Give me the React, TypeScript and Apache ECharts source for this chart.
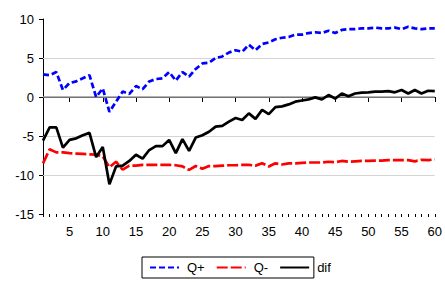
import React, { useEffect, useRef } from "react";
import * as echarts from "echarts";

const xValues: number[] = Array.from({ length: 60 }, (_, i) => i + 1);

const qPlus: number[] = [
  2.9, 2.8, 3.2, 0.9, 1.8, 2.0, 2.4, 2.8, 0.0, 1.1,
  -1.9, -0.6, 0.7, 0.4, 1.4, 1.0, 2.0, 2.3, 2.4, 3.2,
  2.1, 3.2, 2.6, 3.6, 4.3, 4.4, 5.0, 5.2, 5.7, 6.0,
  5.8, 6.7, 6.0, 6.8, 7.0, 7.4, 7.6, 7.7, 8.0, 8.0,
  8.2, 8.3, 8.2, 8.5, 8.2, 8.6, 8.7, 8.7, 8.8, 8.8,
  8.9, 8.8, 8.8, 8.9, 8.7, 9.0, 8.8, 8.7, 8.8, 8.8,
];

const qMinus: number[] = [
  -8.5, -6.7, -7.1, -7.1, -7.2, -7.25, -7.3, -7.35, -7.4, -7.6,
  -9.0, -8.3, -9.3, -8.8, -8.8, -8.7, -8.7, -8.7, -8.7, -8.7,
  -8.75, -8.9, -9.35, -8.85, -9.2, -8.85, -8.85, -8.8, -8.75, -8.75,
  -8.7, -8.7, -8.8, -8.5, -8.9, -8.5, -8.65, -8.5, -8.5, -8.45,
  -8.4, -8.4, -8.4, -8.3, -8.35, -8.2, -8.3, -8.25, -8.2, -8.2,
  -8.15, -8.15, -8.1, -8.1, -8.1, -8.1, -8.25, -8.05, -8.1, -8.0,
];

const dif: number[] = [
  -5.6, -3.9, -3.9, -6.5, -5.5, -5.3, -4.9, -4.6, -7.7, -6.4,
  -11.2, -8.9, -8.8, -8.2, -7.4, -7.9, -6.8, -6.3, -6.3, -5.5,
  -7.2, -5.4, -6.9, -5.2, -4.9, -4.45, -3.8, -3.7, -3.15, -2.7,
  -2.95, -2.1, -2.8, -1.65, -2.2, -1.3, -1.2, -0.95, -0.6, -0.45,
  -0.3, -0.05, -0.3, 0.25, -0.2, 0.45, 0.1, 0.45, 0.55, 0.6,
  0.7, 0.7, 0.75, 0.6, 0.9, 0.45, 0.9, 0.45, 0.8, 0.75,
];

const xMajorTicks: number[] = [5, 10, 15, 20, 25, 30, 35, 40, 45, 50, 55, 60];
const lightGridValues: number[] = [5, -5, -10];
const zeroLineValue = 0;

const FONT = "'Liberation Sans', Arial, Helvetica, sans-serif";

export default function App() {
  const ref = useRef<HTMLDivElement>(null);

  useEffect(() => {
    if (!ref.current) return;
    const chart = echarts.init(ref.current, undefined, { renderer: "svg" });
    const pairs = (ys: number[]) => ys.map((y, i) => [xValues[i], y]);

    chart.setOption({
      animation: false,
      backgroundColor: "#ffffff",
      grid: { left: 43, right: 9, top: 19, bottom: 68, containLabel: false },
      xAxis: [
        {
          type: "value",
          min: 1,
          max: 60,
          axisLine: { show: true, lineStyle: { color: "#000", width: 1 } },
          axisTick: {
            show: true,
            customValues: xMajorTicks,
            length: 5,
            lineStyle: { color: "#000", width: 1 },
          },
          axisLabel: {
            customValues: xMajorTicks,
            color: "#000",
            fontSize: 13,
            fontFamily: FONT,
            margin: 11,
          },
          splitLine: { show: false },
        },
        {
          type: "value",
          min: 1,
          max: 60,
          position: "bottom",
          axisLine: { show: false },
          axisTick: {
            show: true,
            customValues: xValues,
            length: 3,
            lineStyle: { color: "#000", width: 1 },
          },
          axisLabel: { show: false },
          splitLine: { show: false },
        },
      ],
      yAxis: {
        type: "value",
        min: -15,
        max: 10,
        interval: 5,
        axisLine: { show: true, lineStyle: { color: "#000", width: 1 } },
        axisTick: { show: true, length: 4, lineStyle: { color: "#000" } },
        axisLabel: { color: "#000", fontSize: 13, fontFamily: FONT, margin: 9 },
        splitLine: { show: false },
      },
      legend: {
        left: 142,
        top: 257,
        orient: "horizontal",
        itemWidth: 29,
        itemHeight: 12,
        itemGap: 11,
        padding: [4, -17, 4, 7],
        borderColor: "#000",
        borderWidth: 1,
        borderRadius: 0,
        itemStyle: { color: "transparent", borderWidth: 0, opacity: 0 },
        textStyle: { color: "#000", fontSize: 13, fontFamily: FONT, padding: [0, 0, 0, 3] },
      },
      series: [
        {
          name: "Q+",
          type: "line",
          data: pairs(qPlus),
          symbol: "none",
          color: "#0000ff",
          lineStyle: { color: "#0000ff", width: 2.7, type: [6, 3] },
          markLine: {
            silent: true,
            z: 1,
            symbol: "none",
            label: { show: false },
            data: [
              ...lightGridValues.map((v) => ({
                yAxis: v,
                lineStyle: { color: "#d4d4d4", width: 1, type: "solid" },
              })),
              { yAxis: zeroLineValue, lineStyle: { color: "#999999", width: 1.6, type: "solid" } },
            ],
          },
        },
        {
          name: "Q-",
          type: "line",
          data: pairs(qMinus),
          symbol: "none",
          color: "#ff0000",
          lineStyle: { color: "#ff0000", width: 2.7, type: [11, 3] },
        },
        {
          name: "dif",
          type: "line",
          data: pairs(dif),
          symbol: "none",
          color: "#000000",
          lineStyle: { color: "#000000", width: 2.7, type: "solid" },
        },
      ],
    });

    return () => chart.dispose();
  }, []);

  return (
    <div
      ref={ref}
      style={{ position: "fixed", left: 0, top: 0, width: 445, height: 282 }}
    />
  );
}
